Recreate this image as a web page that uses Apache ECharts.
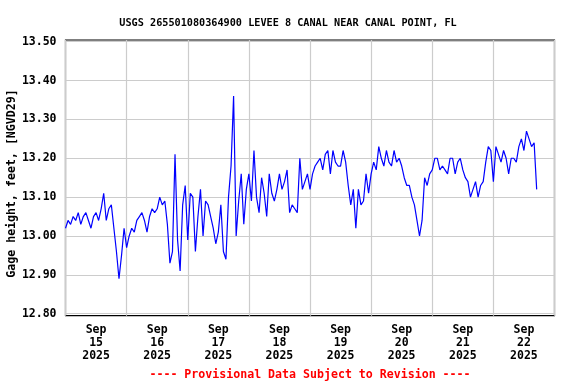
<!DOCTYPE html>
<html>
<head>
<meta charset="utf-8">
<script src="https://cdn.jsdelivr.net/npm/echarts@6/dist/echarts.min.js"></script>
<style>html,body{margin:0;padding:0;background:#fff}#c{width:576px;height:384px}</style>
</head>
<body>
<div id="c"></div>
<script>
const titleText = 'USGS 265501080364900 LEVEE 8 CANAL NEAR CANAL POINT, FL';
const yAxisTitle = 'Gage height, feet, [NGVD29]';
const footerText = '---- Provisional Data Subject to Revision ----';
const dayLabels = ['Sep\n15\n2025','Sep\n16\n2025','Sep\n17\n2025','Sep\n18\n2025','Sep\n19\n2025','Sep\n20\n2025','Sep\n21\n2025','Sep\n22\n2025'];
// hourly gage height from Sep 15 2025 00:00
const gageHeight = [
 13.02,13.04,13.03,13.05,13.04,13.06,13.03,13.05,13.06,13.04,
 13.02,13.05,13.06,13.04,13.07,13.11,13.04,13.07,13.08,13.02,
 12.96,12.89,12.95,13.02,12.97,13.00,13.02,13.01,13.04,13.05,
 13.06,13.04,13.01,13.05,13.07,13.06,13.07,13.10,13.08,13.09,
 13.03,12.93,12.96,13.21,12.99,12.91,13.08,13.13,12.99,13.11,
 13.10,12.96,13.05,13.12,13.00,13.09,13.08,13.05,13.02,12.98,
 13.01,13.08,12.96,12.94,13.10,13.18,13.36,13.00,13.09,13.16,
 13.03,13.12,13.16,13.09,13.22,13.10,13.06,13.15,13.11,13.05,
 13.16,13.11,13.09,13.12,13.16,13.12,13.14,13.17,13.06,13.08,
 13.07,13.06,13.20,13.12,13.14,13.16,13.12,13.16,13.18,13.19,
 13.20,13.17,13.21,13.22,13.16,13.22,13.19,13.18,13.18,13.22,
 13.19,13.13,13.08,13.12,13.02,13.12,13.08,13.09,13.16,13.11,
 13.16,13.19,13.17,13.23,13.20,13.18,13.22,13.19,13.18,13.22,
 13.19,13.20,13.18,13.15,13.13,13.13,13.10,13.08,13.04,13.00,
 13.04,13.15,13.13,13.16,13.17,13.20,13.20,13.17,13.18,13.17,
 13.16,13.20,13.20,13.16,13.19,13.20,13.17,13.15,13.14,13.10,
 13.12,13.14,13.10,13.13,13.14,13.19,13.23,13.22,13.14,13.23,
 13.21,13.19,13.22,13.20,13.16,13.20,13.20,13.19,13.23,13.25,
 13.22,13.27,13.25,13.23,13.24,13.12
];
const yMin = 12.8, yMax = 13.5, yStep = 0.1;
const totalHours = 192;

const seriesData = gageHeight.map((v, i) => [i, v]);
const chart = echarts.init(document.getElementById('c'), null, {renderer: 'canvas'});
const monoFont = "'DejaVu Sans Mono', 'Liberation Mono', monospace";
chart.setOption({
  animation: false,
  backgroundColor: '#ffffff',
  title: {
    text: titleText, left: 'center', top: 13,
    textStyle: {fontFamily: monoFont, fontWeight: 'bold', fontSize: 10.2, color: '#000'}
  },
  grid: [
    {left: 65.5, right: 21.5, top: 40, bottom: 68.3, show: true, borderColor: '#000', borderWidth: 1.2, backgroundColor: 'transparent'},
    {left: 65.5, right: 21.5, top: 41.7, bottom: 70.3}
  ],
  xAxis: [
    {type: 'category', gridIndex: 0, data: dayLabels, boundaryGap: true,
     axisLine: {show: false}, axisTick: {show: false},
     splitLine: {show: true, interval: 0, lineStyle: {color: '#cccccc', width: 1.2}},
     axisLabel: {interval: 0, margin: 8, lineHeight: 13, fontFamily: monoFont, fontWeight: 'bold', fontSize: 11.5, color: '#000'}},
    {type: 'value', gridIndex: 1, min: 0, max: totalHours, show: false}
  ],
  yAxis: [
    {type: 'value', gridIndex: 0, min: 0, max: 1, show: false},
    {type: 'value', gridIndex: 1, min: yMin, max: yMax, interval: yStep,
     axisLine: {show: false}, axisTick: {show: false},
     splitLine: {show: true, lineStyle: {color: '#cccccc', width: 1.2}},
     axisLabel: {margin: 9, formatter: v => v.toFixed(2), fontFamily: monoFont, fontWeight: 'bold', fontSize: 11.5, color: '#000'}}
  ],
  series: [{
    type: 'line', xAxisIndex: 1, yAxisIndex: 1, data: seriesData,
    symbol: 'none', lineStyle: {color: '#0000ff', width: 1.2}, z: 3
  }],
  graphic: [
    {type: 'text', x: 12, y: 183.5, rotation: Math.PI / 2,
     style: {text: yAxisTitle, fontFamily: monoFont, fontWeight: 'bold', fontSize: 11.6, fill: '#000', align: 'center', verticalAlign: 'middle'}},
    {type: 'text', x: 310, y: 375,
     style: {text: footerText, fontFamily: monoFont, fontWeight: 'bold', fontSize: 11.6, fill: '#ff0000', align: 'center', verticalAlign: 'middle'}}
  ]
});
</script>
</body>
</html>
